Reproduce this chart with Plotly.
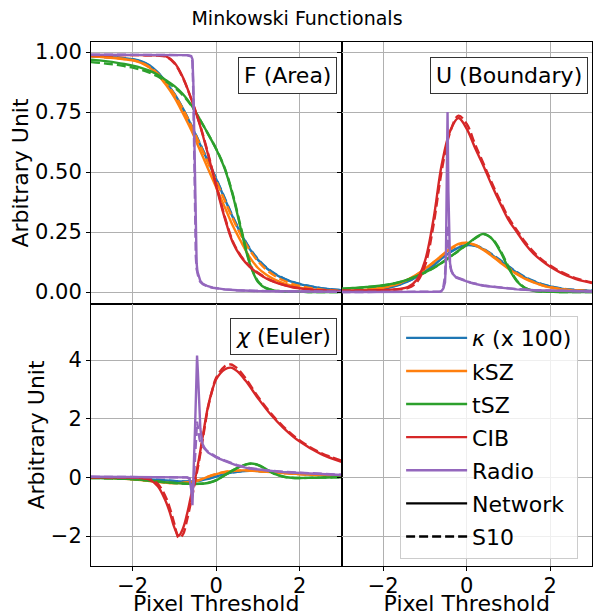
import plotly.graph_objects as go
from plotly.subplots import make_subplots

# ---- data ----
X_GRID = [-3.0, -2.8, -2.6, -2.4, -2.2, -2.0, -1.8, -1.6, -1.4, -1.2, -1.0, -0.8, -0.6, -0.4, -0.2,
          0.0, 0.2, 0.4, 0.6, 0.8, 1.0, 1.2, 1.4, 1.6, 1.8, 2.0, 2.2, 2.4, 2.6, 2.8, 3.0]

# F (Area)
F_KAPPA_NET = [0.983, 0.981, 0.979, 0.977, 0.974, 0.970, 0.962, 0.945, 0.915, 0.873, 0.825, 0.765, 0.695, 0.620, 0.545,
               0.470, 0.390, 0.310, 0.240, 0.180, 0.134, 0.100, 0.075, 0.057, 0.043, 0.033, 0.025, 0.019, 0.014, 0.010, 0.008]
F_KAPPA_S10 = [0.982, 0.980, 0.978, 0.976, 0.973, 0.969, 0.960, 0.943, 0.913, 0.872, 0.823, 0.764, 0.696, 0.622, 0.548,
               0.472, 0.393, 0.313, 0.243, 0.183, 0.137, 0.102, 0.077, 0.058, 0.044, 0.034, 0.026, 0.019, 0.014, 0.011, 0.008]
F_KSZ_NET = [0.982, 0.980, 0.977, 0.974, 0.970, 0.965, 0.955, 0.935, 0.905, 0.862, 0.810, 0.745, 0.675, 0.595, 0.515,
             0.435, 0.355, 0.275, 0.208, 0.145, 0.100, 0.072, 0.052, 0.037, 0.026, 0.018, 0.013, 0.009, 0.006, 0.004, 0.003]
F_KSZ_S10 = [0.983, 0.981, 0.978, 0.975, 0.971, 0.966, 0.956, 0.938, 0.910, 0.870, 0.822, 0.762, 0.693, 0.617, 0.540,
             0.462, 0.382, 0.304, 0.234, 0.175, 0.128, 0.093, 0.068, 0.049, 0.035, 0.025, 0.018, 0.013, 0.009, 0.006, 0.004]
F_TSZ_NET = [0.968, 0.965, 0.961, 0.956, 0.950, 0.943, 0.934, 0.922, 0.905, 0.882, 0.858, 0.825, 0.780, 0.722, 0.660,
             0.595, 0.515, 0.400, 0.255, 0.120, 0.042, 0.015, 0.006, 0.003, 0.001, 0.001, 0.0, 0.0, 0.0, 0.0, 0.0]
F_TSZ_S10 = [0.958, 0.955, 0.951, 0.947, 0.941, 0.935, 0.926, 0.914, 0.898, 0.877, 0.852, 0.820, 0.777, 0.721, 0.660,
             0.596, 0.518, 0.405, 0.262, 0.125, 0.045, 0.016, 0.006, 0.003, 0.001, 0.001, 0.0, 0.0, 0.0, 0.0, 0.0]
F_CIB_NET = [0.987, 0.987, 0.987, 0.987, 0.987, 0.987, 0.987, 0.986, 0.986, 0.982, 0.955, 0.895, 0.805, 0.700, 0.575,
             0.440, 0.310, 0.205, 0.145, 0.105, 0.078, 0.056, 0.041, 0.030, 0.021, 0.015, 0.011, 0.008, 0.006, 0.004, 0.003]
F_CIB_S10 = [0.987, 0.987, 0.987, 0.987, 0.987, 0.987, 0.987, 0.986, 0.985, 0.980, 0.952, 0.892, 0.805, 0.703, 0.580,
             0.446, 0.316, 0.210, 0.148, 0.108, 0.080, 0.058, 0.042, 0.031, 0.022, 0.016, 0.012, 0.008, 0.006, 0.004, 0.003]
X_RADIO_F = [-3.0, -2.0, -1.0, -0.7, -0.6, -0.57, -0.55, -0.53, -0.51, -0.49, -0.47, -0.45, -0.42, -0.38, -0.32,
             -0.2, -0.08, 0.2, 0.5, 1.0, 2.0, 3.0]
F_RADIO_NET = [0.989, 0.989, 0.988, 0.987, 0.983, 0.970, 0.880, 0.700, 0.450, 0.220, 0.120, 0.085, 0.062, 0.045, 0.034,
               0.024, 0.018, 0.011, 0.007, 0.004, 0.002, 0.001]
F_RADIO_S10 = [0.989, 0.989, 0.988, 0.987, 0.982, 0.960, 0.830, 0.600, 0.330, 0.150, 0.095, 0.072, 0.055, 0.042, 0.032,
               0.023, 0.017, 0.011, 0.007, 0.004, 0.002, 0.001]

# U (Boundary)
U_KAPPA_NET = [0.003, 0.004, 0.006, 0.008, 0.011, 0.015, 0.021, 0.031, 0.045, 0.063, 0.085, 0.110, 0.140, 0.165, 0.185,
               0.195, 0.192, 0.178, 0.155, 0.130, 0.105, 0.080, 0.060, 0.044, 0.032, 0.023, 0.016, 0.011, 0.008, 0.006, 0.004]
U_KAPPA_S10 = [0.003, 0.004, 0.006, 0.008, 0.011, 0.016, 0.022, 0.032, 0.046, 0.064, 0.086, 0.112, 0.141, 0.166, 0.186,
               0.196, 0.194, 0.180, 0.158, 0.133, 0.107, 0.083, 0.062, 0.046, 0.033, 0.024, 0.017, 0.012, 0.009, 0.006, 0.005]
U_KSZ_NET = [0.004, 0.005, 0.007, 0.010, 0.014, 0.019, 0.027, 0.038, 0.053, 0.073, 0.097, 0.124, 0.152, 0.180, 0.200,
             0.205, 0.195, 0.175, 0.150, 0.123, 0.097, 0.074, 0.055, 0.040, 0.028, 0.019, 0.013, 0.009, 0.006, 0.004, 0.003]
U_KSZ_S10 = [0.004, 0.005, 0.007, 0.010, 0.013, 0.018, 0.026, 0.037, 0.052, 0.071, 0.095, 0.122, 0.150, 0.177, 0.197,
             0.204, 0.196, 0.178, 0.154, 0.127, 0.101, 0.077, 0.057, 0.041, 0.029, 0.020, 0.014, 0.010, 0.007, 0.005, 0.003]
U_TSZ_NET = [0.014, 0.016, 0.018, 0.021, 0.024, 0.028, 0.034, 0.042, 0.053, 0.066, 0.082, 0.100, 0.122, 0.147, 0.172,
             0.198, 0.225, 0.242, 0.222, 0.170, 0.100, 0.045, 0.016, 0.005, 0.002, 0.001, 0.0, 0.0, 0.0, 0.0, 0.0]
U_TSZ_S10 = [0.013, 0.015, 0.017, 0.020, 0.023, 0.027, 0.033, 0.041, 0.052, 0.065, 0.081, 0.099, 0.121, 0.146, 0.171,
             0.197, 0.223, 0.240, 0.224, 0.175, 0.105, 0.048, 0.017, 0.006, 0.002, 0.001, 0.0, 0.0, 0.0, 0.0, 0.0]
U_CIB_NET = [0.005, 0.005, 0.006, 0.006, 0.007, 0.008, 0.010, 0.013, 0.022, 0.050, 0.130, 0.300, 0.530, 0.670, 0.725,
             0.680, 0.600, 0.525, 0.445, 0.370, 0.300, 0.250, 0.200, 0.160, 0.130, 0.105, 0.085, 0.068, 0.055, 0.045, 0.037]
U_CIB_S10 = [0.005, 0.005, 0.006, 0.006, 0.007, 0.008, 0.009, 0.011, 0.017, 0.040, 0.110, 0.275, 0.505, 0.665, 0.735,
             0.700, 0.615, 0.535, 0.455, 0.380, 0.310, 0.258, 0.208, 0.167, 0.135, 0.110, 0.089, 0.072, 0.058, 0.048, 0.040]
X_RADIO_U = [-3.0, -1.0, -0.64, -0.6, -0.56, -0.52, -0.5, -0.48, -0.46, -0.44, -0.42, -0.4, -0.37, -0.33, -0.25,
             -0.1, 0.1, 0.4, 0.8, 1.2, 1.6, 2.0, 2.5, 3.0]
U_RADIO_NET = [0.0, 0.0, 0.001, 0.005, 0.015, 0.040, 0.120, 0.450, 0.750, 0.420, 0.180, 0.120, 0.090, 0.075, 0.060,
               0.050, 0.038, 0.026, 0.017, 0.011, 0.007, 0.005, 0.003, 0.002]
U_RADIO_S10 = [0.0, 0.0, 0.001, 0.006, 0.020, 0.070, 0.160, 0.260, 0.280, 0.220, 0.140, 0.110, 0.088, 0.075, 0.062,
               0.051, 0.039, 0.027, 0.018, 0.012, 0.008, 0.006, 0.004, 0.002]

# chi (Euler)
CHI_KAPPA_NET = [-0.005, -0.008, -0.012, -0.018, -0.026, -0.036, -0.050, -0.066, -0.085, -0.105, -0.125, -0.140, -0.140, -0.110, -0.050,
                 0.030, 0.110, 0.170, 0.210, 0.225, 0.220, 0.205, 0.185, 0.165, 0.145, 0.125, 0.108, 0.093, 0.080, 0.069, 0.060]
CHI_KAPPA_S10 = [-0.005, -0.008, -0.012, -0.018, -0.027, -0.037, -0.051, -0.068, -0.087, -0.107, -0.127, -0.142, -0.138, -0.105, -0.045,
                 0.035, 0.115, 0.175, 0.212, 0.226, 0.221, 0.206, 0.186, 0.166, 0.146, 0.126, 0.109, 0.094, 0.081, 0.070, 0.061]
CHI_KSZ_NET = [-0.010, -0.013, -0.020, -0.030, -0.045, -0.065, -0.090, -0.120, -0.150, -0.180, -0.195, -0.190, -0.155, -0.090, 0.020,
               0.110, 0.180, 0.220, 0.238, 0.235, 0.215, 0.190, 0.167, 0.146, 0.127, 0.110, 0.095, 0.082, 0.070, 0.060, 0.050]
CHI_KSZ_S10 = [-0.010, -0.014, -0.021, -0.031, -0.046, -0.066, -0.092, -0.122, -0.152, -0.182, -0.196, -0.188, -0.150, -0.085, 0.025,
               0.115, 0.183, 0.222, 0.239, 0.234, 0.214, 0.189, 0.166, 0.145, 0.126, 0.109, 0.094, 0.081, 0.069, 0.059, 0.050]
CHI_TSZ_NET = [-0.020, -0.025, -0.030, -0.038, -0.048, -0.060, -0.080, -0.110, -0.140, -0.170, -0.190, -0.210, -0.220, -0.220, -0.190,
               -0.100, 0.070, 0.240, 0.380, 0.470, 0.430, 0.280, 0.120, 0.030, -0.010, -0.020, -0.015, -0.010, -0.005, 0.0, 0.0]
CHI_TSZ_S10 = [-0.021, -0.026, -0.031, -0.039, -0.049, -0.062, -0.082, -0.112, -0.142, -0.172, -0.192, -0.212, -0.222, -0.218, -0.185,
               -0.095, 0.075, 0.245, 0.385, 0.465, 0.420, 0.270, 0.115, 0.028, -0.010, -0.020, -0.015, -0.010, -0.005, 0.0, 0.0]
X_CIB_CHI = [-3.0, -2.0, -1.6, -1.4, -1.2, -1.1, -1.0, -0.9, -0.8, -0.7, -0.6, -0.5, -0.4, -0.3, -0.2,
             -0.1, 0.0, 0.2, 0.35, 0.5, 0.7, 1.0, 1.3, 1.6, 2.0, 2.5, 3.0]
CHI_CIB_NET = [0.0, -0.01, -0.08, -0.30, -0.85, -1.25, -1.72, -1.98, -1.75, -1.25, -0.60, 0.00, 0.75, 1.60, 2.40,
               2.95, 3.35, 3.68, 3.74, 3.62, 3.30, 2.70, 2.15, 1.70, 1.22, 0.80, 0.53]
CHI_CIB_S10 = [0.0, -0.01, -0.05, -0.22, -0.70, -1.10, -1.60, -2.06, -1.95, -1.45, -0.80, -0.10, 0.65, 1.50, 2.35,
               2.95, 3.40, 3.78, 3.85, 3.72, 3.38, 2.75, 2.20, 1.74, 1.26, 0.84, 0.57]
X_RADIO_CHI = [-3.0, -2.0, -1.0, -0.7, -0.64, -0.6, -0.57, -0.54, -0.51, -0.48, -0.46, -0.44, -0.42, -0.4, -0.38,
               -0.33, -0.28, -0.2, -0.1, 0.0, 0.2, 0.5, 0.8, 1.2, 1.6, 2.0, 2.5, 3.0]
CHI_RADIO_NET = [0.02, 0.02, 0.02, 0.0, -0.05, -0.40, -0.95, 0.10, 1.60, 3.10, 4.15, 3.60, 2.90, 2.20, 1.65,
                 1.15, 1.00, 0.85, 0.75, 0.68, 0.56, 0.40, 0.30, 0.23, 0.18, 0.15, 0.11, 0.08]
CHI_RADIO_S10 = [0.02, 0.02, 0.02, 0.0, -0.03, -0.20, -0.50, -0.20, 0.60, 1.50, 1.90, 1.70, 1.45, 1.30, 1.20,
                 1.08, 0.98, 0.88, 0.78, 0.70, 0.58, 0.42, 0.32, 0.24, 0.19, 0.16, 0.12, 0.09]

NAMES = ["<i>κ</i> (x 100)", "kSZ", "tSZ", "CIB", "Radio"]
COLORS = ["#1f77b4", "#ff7f0e", "#2ca02c", "#d62728", "#9467bd"]

FONT = "DejaVu Sans"
LW = 2.4
DASH = "9px,4px"

fig = make_subplots(rows=2, cols=2, horizontal_spacing=0, vertical_spacing=0)


def add_pair(row, col, x, net, s10, i, legend=False, shape="spline"):
    fig.add_trace(go.Scatter(x=x, y=net, mode="lines", name=NAMES[i], legendgroup=NAMES[i],
                             showlegend=legend, line=dict(color=COLORS[i], width=LW, shape=shape)),
                  row=row, col=col)
    fig.add_trace(go.Scatter(x=x, y=s10, mode="lines", name=NAMES[i], legendgroup=NAMES[i],
                             showlegend=False, line=dict(color=COLORS[i], width=LW, dash=DASH, shape=shape)),
                  row=row, col=col)


# F panel
add_pair(1, 1, X_GRID, F_KAPPA_NET, F_KAPPA_S10, 0, True)
add_pair(1, 1, X_GRID, F_KSZ_NET, F_KSZ_S10, 1, True)
add_pair(1, 1, X_GRID, F_TSZ_NET, F_TSZ_S10, 2, True)
add_pair(1, 1, X_GRID, F_CIB_NET, F_CIB_S10, 3, True)
add_pair(1, 1, X_RADIO_F, F_RADIO_NET, F_RADIO_S10, 4, True, "linear")
# U panel
add_pair(1, 2, X_GRID, U_KAPPA_NET, U_KAPPA_S10, 0)
add_pair(1, 2, X_GRID, U_KSZ_NET, U_KSZ_S10, 1)
add_pair(1, 2, X_GRID, U_TSZ_NET, U_TSZ_S10, 2)
add_pair(1, 2, X_GRID, U_CIB_NET, U_CIB_S10, 3)
add_pair(1, 2, X_RADIO_U, U_RADIO_NET, U_RADIO_S10, 4, False, "linear")
# chi panel
add_pair(2, 1, X_GRID, CHI_KAPPA_NET, CHI_KAPPA_S10, 0)
add_pair(2, 1, X_GRID, CHI_KSZ_NET, CHI_KSZ_S10, 1)
add_pair(2, 1, X_GRID, CHI_TSZ_NET, CHI_TSZ_S10, 2)
add_pair(2, 1, X_CIB_CHI, CHI_CIB_NET, CHI_CIB_S10, 3)
add_pair(2, 1, X_RADIO_CHI, CHI_RADIO_NET, CHI_RADIO_S10, 4, False, "linear")

# style entries for the legend
fig.add_trace(go.Scatter(x=[None], y=[None], mode="lines", name="Network", legendgroup="net",
                         line=dict(color="black", width=LW)), row=2, col=2)
fig.add_trace(go.Scatter(x=[None], y=[None], mode="lines", name="S10", legendgroup="s10",
                         line=dict(color="black", width=LW, dash=DASH)), row=2, col=2)

axis_common = dict(showline=True, linecolor="black", linewidth=1, mirror=True, automargin=False,
                   showgrid=True, gridcolor="#b0b0b0", gridwidth=1, zeroline=False,
                   ticks="outside", ticklen=4, tickcolor="black",
                   tickfont=dict(family=FONT, size=21, color="black"))

for r in (1, 2):
    for c in (1, 2):
        fig.update_xaxes(range=[-3, 3], tickvals=[-2, 0, 2], showticklabels=(r == 2),
                         ticklabelstandoff=-3, row=r, col=c, **axis_common)
fig.update_yaxes(range=[-0.05, 1.0417], tickvals=[0, 0.25, 0.5, 0.75, 1.0], tickformat=".2f",
                 row=1, col=1, **axis_common)
fig.update_yaxes(range=[-0.05, 1.0417], tickvals=[0, 0.25, 0.5, 0.75, 1.0], showticklabels=False,
                 row=1, col=2, **axis_common)
fig.update_yaxes(range=[-3.02, 5.91], tickvals=[-2, 0, 2, 4], row=2, col=1, **axis_common)
fig.update_yaxes(range=[-3.02, 5.91], tickvals=[-2, 0, 2, 4], showticklabels=False,
                 row=2, col=2, **axis_common)

title_font = dict(family=FONT, size=22, color="black")
fig.update_yaxes(title_text="Arbitrary Unit", title_font=title_font, title_standoff=0, row=1, col=1)
fig.update_yaxes(title_text="Arbitrary Unit", title_font=title_font, title_standoff=0, row=2, col=1)
fig.update_xaxes(title_text="Pixel Threshold", title_font=title_font, title_standoff=4, row=2, col=1)
fig.update_xaxes(title_text="Pixel Threshold", title_font=title_font, title_standoff=4, row=2, col=2)

box = dict(showarrow=False, font=dict(family=FONT, size=22, color="black"),
           bgcolor="white", bordercolor="#333333", borderwidth=1, borderpad=5,
           xanchor="right", yanchor="top")
fig.add_annotation(text="F (Area)", xref="x domain", yref="y domain", x=0.982, y=0.943, **box)
fig.add_annotation(text="U (Boundary)", xref="x2 domain", yref="y2 domain", x=0.986, y=0.943, **box)
fig.add_annotation(text="<i>χ</i> (Euler)", xref="x3 domain", yref="y3 domain", x=0.982, y=0.947, **box)

fig.update_layout(
    width=594, height=616,
    margin=dict(l=91, r=2, t=42, b=50),
    paper_bgcolor="white", plot_bgcolor="white",
    title=dict(text="Minkowski Functionals", x=0.5, xanchor="center", y=1 - 18 / 616, yanchor="middle",
               font=dict(family=FONT, size=19, color="black")),
    font=dict(family=FONT, color="black"),
    legend=dict(x=0.617, y=0.477, xanchor="left", yanchor="top",
                bgcolor="rgba(255,255,255,0.8)", bordercolor="#cccccc", borderwidth=1,
                font=dict(family=FONT, size=22, color="black"),
                traceorder="grouped", tracegroupgap=1.5, itemwidth=61),
    showlegend=True,
)

# drop the page's default body margin so the 594x616 figure fills the window
fig.write_html("out.html", config={"displayModeBar": False},
               post_script="document.body.style.margin='0';")
